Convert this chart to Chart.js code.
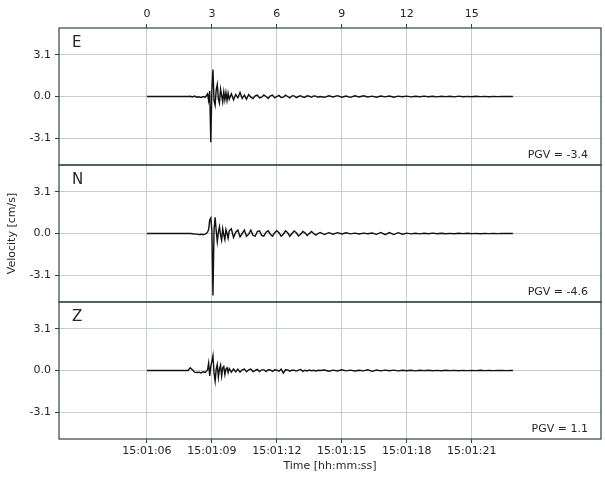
<!DOCTYPE html>
<html>
<head>
<meta charset="utf-8">
<title>Velocity records</title>
<script src="https://cdn.jsdelivr.net/npm/chart.js@4.4.0/dist/chart.umd.min.js"></script>
<style>
  html, body { margin: 0; padding: 0; background: #fff; }
  #wrap { position: relative; width: 605px; height: 479px; }
</style>
</head>
<body>
<div id="wrap"><canvas id="seismo"></canvas></div>
<script>
// sample times [s] after 15:01:06, shared by the three components
const times = [
  0, 1.9,
  2.0, 2.1, 2.2, 2.3, 2.4, 2.5, 2.6, 2.7, 2.8,
  2.85, 2.9, 2.95, 3.0, 3.05, 3.1, 3.15, 3.2, 3.25, 3.3, 3.35, 3.4, 3.45, 3.5, 3.55, 3.6, 3.65, 3.7, 3.75,
  3.8, 3.9,
  4.0, 4.1, 4.2, 4.3, 4.4, 4.5, 4.6, 4.7, 4.8, 4.9,
  5.0, 5.1, 5.2, 5.3, 5.4, 5.5, 5.6, 5.7, 5.8, 5.9,
  6.0, 6.1, 6.2, 6.3, 6.4, 6.5, 6.6, 6.7, 6.8, 6.9,
  7.0, 7.1, 7.2, 7.3, 7.4, 7.5, 7.6, 7.7, 7.8, 7.9,
  8.0,
  8.2, 8.4, 8.6, 8.8, 9.0, 9.2, 9.4, 9.6, 9.8, 10.0, 10.2, 10.4, 10.6, 10.8, 11.0,
  11.2, 11.4, 11.6, 11.8, 12.0, 12.2, 12.4, 12.6, 12.8, 13.0, 13.2, 13.4, 13.6, 13.8, 14.0,
  14.2, 14.4, 14.6, 14.8, 15.0, 15.2, 15.4, 15.6, 15.8, 16.0, 16.2, 16.4, 16.6, 16.8,
  16.9
];

// velocity [cm/s], east component
const velE = [
  0, 0,
  0.02, -0.03, 0.03, -0.05, -0.02, -0.08, 0.0, -0.05, 0.2,
  -0.3, 0.4, -3.4, 0.5, 2.0, -0.3, -0.65, 0.5, 0.9, -0.2, -0.5, 0.55, 0.1, -0.4, 0.35, -0.25, 0.3, -0.3, 0.25,
  -0.2, 0.2,
  -0.25, 0.15, -0.1, 0.3, -0.15, 0.1, -0.2, 0.15, -0.05, -0.15,
  0.05, 0.1, -0.1, -0.05, 0.12, 0.0, -0.15, 0.05, 0.1, -0.1,
  0.0, 0.08, -0.08, -0.05, 0.1, 0.0, -0.1, 0.05, 0.05, -0.08,
  0.0, 0.06, -0.04, -0.06, 0.05, 0.02, -0.06, 0.04, 0.03, -0.05,
  0.0,
  -0.06, 0.05, -0.04, 0.06, -0.05, 0.04, -0.06, 0.05, -0.03, 0.05, -0.04, 0.03, -0.05, 0.04, -0.03,
  0.04, -0.05, 0.03, -0.02, 0.03, -0.03, 0.02, -0.02, 0.03, -0.02, 0.02, -0.03, 0.02, -0.01, 0.02,
  -0.03, 0.03, -0.02, 0.01, -0.02, 0.02, -0.01, 0.01, -0.02, 0.01, -0.01, 0.01, 0.0, 0.01,
  0
];

// north component
const velN = [
  0, 0,
  0.0, -0.02, -0.05, -0.05, -0.08, -0.06, -0.08, -0.05, 0.1,
  0.3, 1.0, 1.15, 0.2, -4.6, 0.3, 1.2, 0.2, -0.6, 0.1, 0.5, -0.1, -0.5, 0.35, -0.1, -0.45, 0.3, 0.0, -0.35,
  0.2, 0.35,
  -0.3, 0.1, 0.25, -0.25, 0.0, 0.25, -0.2, -0.05, 0.25, -0.15,
  -0.2, 0.15, 0.2, -0.15, -0.2, 0.1, 0.2, -0.05, -0.2, 0.05,
  0.2, 0.05, -0.2, -0.05, 0.2, 0.05, -0.2, 0.0, 0.18, 0.05,
  -0.18, -0.05, 0.15, 0.05, -0.15, 0.0, 0.15, 0.0, -0.12, 0.0,
  0.08,
  -0.08, 0.06, -0.05, 0.06, -0.04, 0.05, -0.03, 0.03, -0.04, 0.03, -0.02, 0.04, -0.06, 0.08, -0.09,
  0.07, -0.08, 0.06, -0.05, 0.03, -0.03, 0.02, -0.03, 0.02, -0.02, 0.03, -0.02, 0.02, -0.02, 0.01,
  -0.02, 0.02, -0.01, 0.02, -0.01, 0.01, -0.02, 0.01, -0.01, 0.01, -0.01, 0.01, 0.0, 0.01,
  0
];

// vertical component
const velZ = [
  0, 0,
  0.2, 0.05, -0.12, -0.15, -0.12, -0.18, -0.1, -0.15, 0.05,
  0.55, -0.4, 0.3, 0.7, 1.1, -0.2, -0.8, 0.1, 0.45, -0.5, 0.1, 0.4, -0.4, 0.2, 0.3, -0.3, 0.1, 0.2, -0.15,
  0.15, -0.12,
  0.12, -0.1, 0.1, -0.12, 0.05, 0.1, -0.1, 0.05, 0.1, -0.08,
  0.0, 0.08, -0.08, 0.05, 0.05, -0.08, 0.06, 0.04, -0.06, 0.05,
  0.02, -0.05, 0.1, -0.2, 0.05, 0.04, -0.05, 0.03, 0.02, -0.04,
  0.03, 0.08, -0.06, 0.02, -0.03, 0.03, -0.02, 0.02, -0.03, 0.02,
  0.0,
  0.04, -0.05, 0.03, -0.04, 0.05, -0.03, 0.03, -0.04, 0.02, -0.03, 0.05, -0.06, 0.04, -0.03, 0.03,
  -0.02, 0.03, -0.03, 0.02, -0.02, 0.02, -0.03, 0.02, -0.01, 0.02, -0.02, 0.01, -0.02, 0.02, -0.01,
  0.01, -0.02, 0.01, -0.01, 0.01, -0.01, 0.02, -0.01, 0.01, -0.01, 0.0, 0.01, -0.01, 0.0,
  0
];

const components = ["E", "N", "Z"];
const xTicks = [0, 3, 6, 9, 12, 15];
const timeLabels = ["15:01:06", "15:01:09", "15:01:12", "15:01:15", "15:01:18", "15:01:21"];
const yTicks = [3.1, 0.0, -3.1];

const xMin = -4.06, xMax = 20.97;
const yLim = 5.08;

const frameColor = "#2e4448";
const gridColor = "#c6ced5";
const textColor = "#262626";
const font = { family: "'DejaVu Sans', sans-serif", size: 11 };

// peak value with its sign, for the PGV note of each panel
const peak = (vals) => vals.reduce((p, v) => (Math.abs(v) > Math.abs(p) ? v : p), 0);

const traces = [velE, velN, velZ];
const axisIds = ["yE", "yN", "yZ"];

const panelNotes = {
  id: "panelNotes",
  afterDraw(chart) {
    const { ctx, chartArea } = chart;
    ctx.save();
    axisIds.forEach((id, i) => {
      const s = chart.scales[id];
      ctx.strokeStyle = frameColor;
      ctx.lineWidth = 1.2;
      ctx.strokeRect(chartArea.left, s.top, chartArea.right - chartArea.left, s.bottom - s.top);

      ctx.fillStyle = textColor;
      ctx.textBaseline = "middle";
      ctx.textAlign = "left";
      ctx.font = "15px 'DejaVu Sans', sans-serif";
      ctx.fillText(components[i], chartArea.left + 13, s.top + 15);

      ctx.textAlign = "right";
      ctx.font = "11px 'DejaVu Sans', sans-serif";
      ctx.fillText("PGV = " + peak(traces[i]).toFixed(1), chartArea.right - 13, s.bottom - 10);
    });
    ctx.restore();
  },
};

function yAxis(weight, showTitle) {
  return {
    type: "linear",
    position: "left",
    stack: "velocity",
    weight: weight,
    min: -yLim,
    max: yLim,
    afterBuildTicks: (scale) => { scale.ticks = yTicks.map((v) => ({ value: v })); },
    afterFit: (scale) => { scale.width = 59; },
    ticks: {
      color: textColor,
      font: font,
      padding: 4,
      callback: (v) => Number(v).toFixed(1),
    },
    grid: { color: gridColor, lineWidth: 1, tickLength: 4, tickColor: frameColor },
    border: { display: false },
    title: {
      display: showTitle,
      text: "Velocity [cm/s]",
      color: textColor,
      font: font,
      padding: { top: 6, bottom: 0 },
    },
  };
}

const datasets = traces.map((vals, i) => ({
  label: components[i],
  data: times.map((t, k) => ({ x: t, y: vals[k] })),
  xAxisID: "x",
  yAxisID: axisIds[i],
  borderColor: "#111111",
  borderWidth: 1.4,
  pointRadius: 0,
  tension: 0,
  fill: false,
}));

new Chart(document.getElementById("seismo"), {
  type: "line",
  data: { datasets: datasets },
  options: {
    responsive: true,
    maintainAspectRatio: false,
    animation: false,
    layout: { padding: { left: 0, right: 4, top: 0, bottom: 0 } },
    plugins: {
      legend: { display: false },
      tooltip: { enabled: false },
    },
    scales: {
      x: {
        type: "linear",
        position: "bottom",
        min: xMin,
        max: xMax,
        afterBuildTicks: (scale) => { scale.ticks = xTicks.map((v) => ({ value: v })); },
        afterFit: (scale) => { scale.height = 40; },
        ticks: {
          color: textColor,
          font: font,
          padding: 2,
          maxRotation: 0,
          callback: (v) => timeLabels[xTicks.indexOf(v)],
        },
        grid: { color: gridColor, lineWidth: 1, tickLength: 4, tickColor: frameColor },
        border: { display: false },
        title: {
          display: true,
          text: "Time [hh:mm:ss]",
          color: textColor,
          font: font,
          padding: { top: 0, bottom: 6 },
        },
      },
      xTop: {
        type: "linear",
        position: "top",
        min: xMin,
        max: xMax,
        afterBuildTicks: (scale) => { scale.ticks = xTicks.map((v) => ({ value: v })); },
        afterFit: (scale) => { scale.height = 28; },
        ticks: {
          color: textColor,
          font: font,
          padding: 3,
          maxRotation: 0,
          callback: (v) => String(v),
        },
        grid: { drawOnChartArea: false, tickLength: 4, tickColor: frameColor },
        border: { display: false },
      },
      yE: yAxis(3, false),
      yN: yAxis(2, true),
      yZ: yAxis(1, false),
    },
  },
  plugins: [panelNotes],
});
</script>
</body>
</html>
